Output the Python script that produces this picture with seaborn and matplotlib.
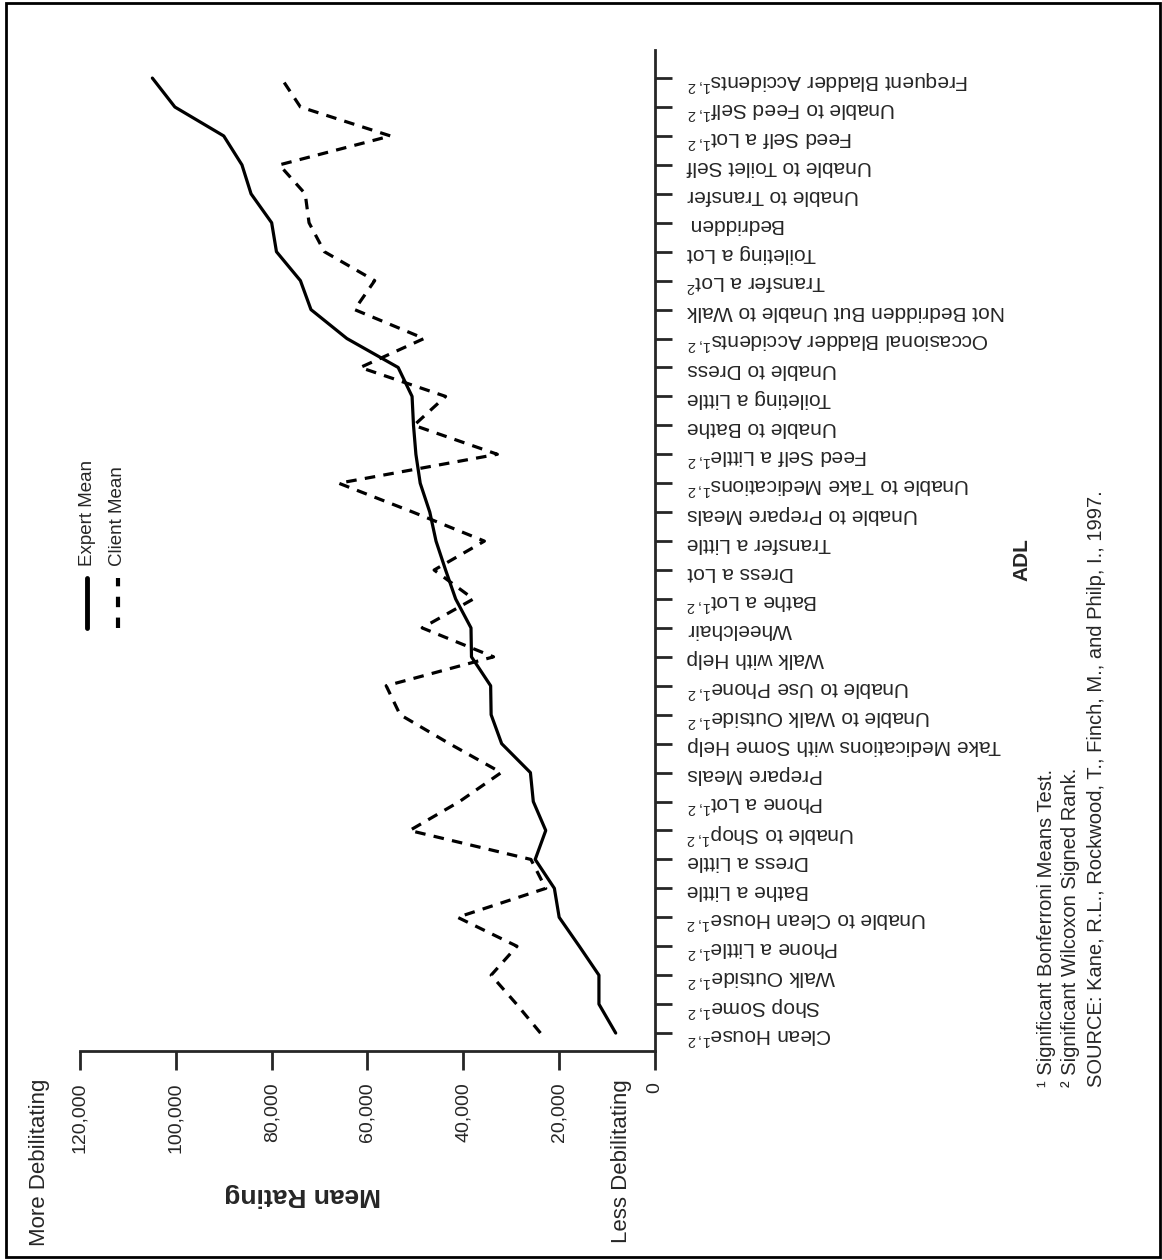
import numpy as np
import pandas as pd
import matplotlib.pyplot as plt
from matplotlib.lines import Line2D
from matplotlib.patches import Rectangle
from matplotlib.ticker import FuncFormatter
import seaborn as sns

# ADL items, bottom of the axis first
adl = ["Clean House$^{1,2}$", "Shop Some$^{1,2}$", "Walk Outside$^{1,2}$",
       "Phone a Little$^{1,2}$", "Unable to Clean House$^{1,2}$", "Bathe a Little",
       "Dress a Little", "Unable to Shop$^{1,2}$", "Phone a Lot$^{1,2}$",
       "Prepare Meals", "Take Medications with Some Help",
       "Unable to Walk Outside$^{1,2}$", "Unable to Use Phone$^{1,2}$",
       "Walk with Help", "Wheelchair", "Bathe a Lot$^{1,2}$", "Dress a Lot",
       "Transfer a Little", "Unable to Prepare Meals",
       "Unable to Take Medications$^{1,2}$", "Feed Self a Little$^{1,2}$",
       "Unable to Bathe", "Toileting a Little", "Unable to Dress",
       "Occasional Bladder Accidents$^{1,2}$", "Not Bedridden But Unable to Walk",
       "Transfer a Lot$^{2}$", "Toileting a Lot", "Bedridden", "Unable to Transfer",
       "Unable to Toilet Self", "Feed Self a Lot$^{1,2}$",
       "Unable to Feed Self$^{1,2}$", "Frequent Bladder Accidents$^{1,2}$"]

expert_mean = [8200, 11700, 11700, 15800, 20000, 21000, 25000, 22800, 25400,
               26000, 32000, 34200, 34300, 38300, 38400, 41600, 43700, 45700,
               47000, 49000, 49900, 50400, 50700, 53600, 64300, 71800, 74000,
               79000, 80000, 84300, 86200, 90000, 100200, 104900]

client_mean = [23900, 28900, 34200, 28800, 41200, 22800, 25900, 51200, 40800,
               32100, 42900, 53200, 56100, 33700, 48600, 37900, 46100, 35600,
               50500, 66000, 32900, 50300, 43700, 61500, 48200, 62700, 58500,
               69000, 72200, 73000, 78400, 55200, 74000, 78000]

rating_ticks = [0, 20000, 40000, 60000, 80000, 100000, 120000]

footnotes = ["\u00b9 Significant Bonferroni Means Test.",
             "\u00b2 Significant Wilcoxon Signed Rank.",
             "SOURCE: Kane, R.L., Rockwood, T., Finch, M., and Philp, I., 1997."]

sns.set_style("ticks")
plt.rcParams['font.family'] = ['Liberation Sans', 'DejaVu Sans']
plt.rcParams['mathtext.fontset'] = 'custom'
plt.rcParams['mathtext.rm'] = 'Liberation Sans'
plt.rcParams['mathtext.default'] = 'regular'

df = pd.DataFrame({'pos': np.arange(len(adl)),
                   'expert': expert_mean,
                   'client': client_mean})

W, H = 1162, 1260
fig = plt.figure(figsize=(W / 100, H / 100), dpi=100)

def fx(px):
    return px / W

def fy(py):
    return 1 - py / H

ax = fig.add_axes([fx(80), fy(1051), fx(655) - fx(80), fy(50) - fy(1051)])

sns.lineplot(data=df, x='expert', y='pos', orient='y', color='black',
             lw=2.3, ax=ax)
sns.lineplot(data=df, x='client', y='pos', orient='y', color='black',
             lw=2.3, linestyle=(0, (3.3, 2.6)), ax=ax)

ax.set_xlim(120000, 0)
ax.set_ylim(-0.62, len(adl) - 1 + 0.97)
ax.set_xticks(rating_ticks)
ax.xaxis.set_major_formatter(FuncFormatter(lambda v, p: f"{int(v):,}"))
ax.set_yticks(df['pos'])
ax.set_yticklabels(adl)
ax.yaxis.tick_right()
ax.set_xlabel('')
ax.set_ylabel('')

for s in ['top', 'left']:
    ax.spines[s].set_visible(False)
for s in ['bottom', 'right']:
    ax.spines[s].set_linewidth(2)

# tick sizes are in points (1px = 0.72pt here)
ax.tick_params(axis='x', length=13.5, width=2, pad=9, labelsize=14,
               labelrotation=90)
ax.tick_params(axis='y', length=12, width=2, pad=11, labelsize=15,
               labelrotation=180)

# axis annotations, rotated like the printed page
fig.text(fx(40), fy(1079), 'More Debilitating', rotation=90, ha='center',
         va='top', fontsize=16)
fig.text(fx(621), fy(1079), 'Less Debilitating', rotation=90, ha='center',
         va='top', fontsize=16)
fig.text(fx(303), fy(1195), 'Mean Rating', rotation=180, ha='center',
         va='center', fontsize=19, weight='bold')
fig.text(fx(1022), fy(560), 'ADL', rotation=90, ha='center', va='center',
         fontsize=15, weight='bold')

# legend drawn by hand (vertical)
fig.add_artist(Line2D([fx(87), fx(87)], [fy(628), fy(578)], color='black',
                      lw=3.5, transform=fig.transFigure))
fig.add_artist(Line2D([fx(118), fx(118)], [fy(628), fy(578)], color='black',
                      lw=3, linestyle=(0, (2.5, 2.5)),
                      transform=fig.transFigure))
fig.text(fx(87), fy(566), 'Expert Mean', rotation=90, ha='center',
         va='bottom', fontsize=13.5)
fig.text(fx(118), fy(566), 'Client Mean', rotation=90, ha='center',
         va='bottom', fontsize=13.5)

for xpos, note in zip([1047, 1071, 1096], footnotes):
    fig.text(fx(xpos), fy(1087), note, rotation=90, ha='center',
             va='bottom', fontsize=14.5)

fig.add_artist(Rectangle((fx(6), fy(1257)), fx(1160) - fx(6), fy(3) - fy(1257),
                         fill=False, lw=2, edgecolor='black',
                         transform=fig.transFigure))

fig.savefig('out.png', dpi=100)
